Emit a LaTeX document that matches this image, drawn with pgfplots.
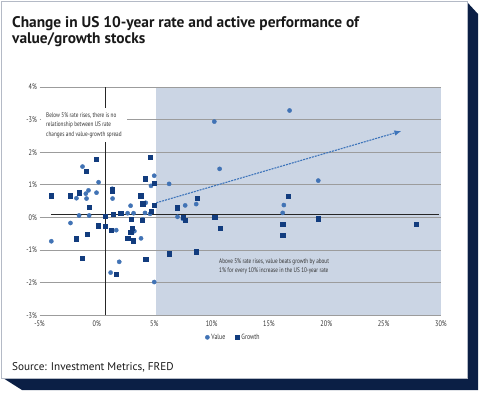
\documentclass[border=0pt]{standalone}
\usepackage{fontspec}
\setmainfont{PT Sans}
\newfontfamily\cond[FakeStretch=0.78]{PT Sans}
\usepackage{pgfplots}
\pgfplotsset{compat=1.18}
\usetikzlibrary{arrows.meta}
\definecolor{navy}{HTML}{0B1F45}
\definecolor{shadec}{HTML}{CBD5E4}
\definecolor{valc}{HTML}{4173B5}
\definecolor{groc}{HTML}{123C7E}
\definecolor{gridc}{HTML}{9C9C9C}
\definecolor{txt}{HTML}{333333}
\definecolor{trend}{HTML}{3D74BA}
\definecolor{cardb}{HTML}{B4BAC6}
\begin{document}
\begin{tikzpicture}[x=1pt,y=1pt]
\path[use as bounding box] (0,0) rectangle (480,392);
\fill[navy] (467,390) -- (478,378) -- (478,2) -- (22,2) -- (3,14) -- (467,14) -- cycle;
\filldraw[fill=white, draw=cardb, line width=0.8pt] (1,14) rectangle (467,391);
\node[anchor=base west, inner sep=0pt, font=\bfseries\fontsize{15.4}{16}\selectfont, text=black!90] at (12,392-28) {Change in US 10-year rate and active performance of};
\node[anchor=base west, inner sep=0pt, font=\bfseries\fontsize{15.4}{16}\selectfont, text=black!90] at (12,392-43.5) {value/growth stocks};
\node[anchor=base west, inner sep=0pt, font=\fontsize{11.2}{12}\selectfont, text=black!90] at (12,392-370.5) {Source: Investment Metrics, FRED};
\begin{axis}[
  at={(39.5pt,76.7pt)}, anchor=south west, scale only axis,
  width=401.5pt, height=228.3pt,
  xmin=-5, xmax=30, ymin=-3, ymax=4,
  axis line style={draw=none}, major tick length=0pt,
  xtick={-5,0,5,10,15,20,25,30},
  xticklabels={-5\%,0\%,5\%,10\%,15\%,20\%,25\%,30\%},
  ytick={-3,-2,-1,0,1,2,3,4},
  yticklabels={-3\%,-2\%,-1\%,0\%,1\%,2\%,-3\%,4\%},
  tick label style={font=\cond\fontsize{8}{9}\selectfont, text=txt},
  xticklabel style={yshift=-1.5pt},
  yticklabel style={xshift=1pt},
  clip=false,
  legend columns=2,
  legend style={at={(0.483,-0.0964)}, anchor=center, draw=none, fill=none,
    font=\cond\fontsize{7.5}{9}\selectfont, text=txt,
    /tikz/every even column/.append style={column sep=8pt}},
  legend image code/.code={\draw[#1] plot coordinates {(0pt,0pt)};},
]
\fill[shadec] (axis cs:5.19,-3) rectangle (axis cs:30,4);
\pgfplotsinvokeforeach{-3,-2,-1,0,1,2,3,4}{
  \draw[gridc, line width=1pt] (axis cs:-5,#1) -- (axis cs:30,#1);
}
\draw[black!85, line width=1.2pt] (axis cs:-4,0.08) -- (axis cs:29.8,0.08);
\draw[black!85, line width=1.2pt] (axis cs:0.72,-3) -- (axis cs:0.72,4);
\addplot[only marks, mark=*, mark size=2.1pt, color=valc, mark options={draw=valc, fill=valc}] coordinates {
(-3.97,-0.73) (-2.3,-0.17) (-1.78,0.59) (-1.55,0.06) (-1.25,1.56) (-0.96,0.73)
(-0.73,0.83) (-0.9,0.58) (-0.67,0.06) (-0.03,0.76) (0.15,1.08) (1.34,0.88)
(1.37,0.58) (1.2,-1.69) (1.95,-1.36) (1.69,-0.39) (2.68,0.13) (2.94,0.36)
(3.2,0.13) (3.27,-0.42) (3.85,-0.64) (4.0,-0.06) (4.2,0.14) (4.26,0.45)
(4.64,0.11) (4.72,0.97) (5.0,1.28) (5.0,-1.98) (6.3,1.03) (7.03,0.02)
(7.7,0.37) (7.5,-0.04) (8.66,0.41) (10.24,2.94) (10.7,1.49) (16.2,0.14)
(16.3,0.38) (16.8,3.28) (19.3,1.13)
};
\addlegendentry{Value}
\addplot[only marks, mark=square*, mark size=2.1pt, color=groc, mark options={draw=groc, fill=groc}] coordinates {
(-3.97,0.67) (-2.3,0.67) (-1.55,0.76) (-0.9,1.43) (-0.03,1.78) (-0.67,0.32)
(-1.78,-0.65) (-0.82,-0.52) (-1.28,-1.24) (0.15,-0.25) (0.7,-0.27) (0.7,0.05)
(1.34,0.86) (1.34,0.8) (1.43,0.09) (2.07,0.14) (1.28,-0.39) (1.69,-1.74)
(2.68,-0.64) (3.0,-0.05) (3.1,-0.33) (2.95,-0.45) (3.2,-0.71) (3.82,0.67)
(3.94,-0.08) (4.0,0.42) (4.2,1.19) (4.26,-1.29) (4.67,1.84) (4.72,0.19)
(5.0,1.06) (5.0,0.38) (6.33,-1.11) (7.03,0.30) (7.5,0.01) (7.73,-0.08)
(8.78,0.6) (8.66,-1.05) (10.27,0.02) (10.73,-0.32) (16.2,-0.2) (16.2,-0.54)
(16.7,0.66) (19.3,-0.04) (27.85,-0.2)
};
\addlegendentry{Growth}
\addplot[forget plot, trend, line width=1.1pt, dash pattern=on 2pt off 1pt, -{Latex[length=7pt,width=5.5pt]}] coordinates {(5.19,0.45) (26.55,2.65)};
\end{axis}
\fill[white] (41,392-142) rectangle (127,392-108);
\node[anchor=base west, inner sep=0pt, font=\cond\fontsize{6.7}{8}\selectfont, text=txt] at (46,392-117.3) {Below 5\% rate rises, there is no};
\node[anchor=base west, inner sep=0pt, font=\cond\fontsize{6.7}{8}\selectfont, text=txt] at (46,392-126.8) {relationship between US rate};
\node[anchor=base west, inner sep=0pt, font=\cond\fontsize{6.7}{8}\selectfont, text=txt] at (46,392-136.3) {changes and value-growth spread};
\node[anchor=base west, inner sep=0pt, font=\cond\fontsize{6.7}{8}\selectfont, text=txt] at (219,392-263.5) {Above 5\% rate rises, value beats growth by about};
\node[anchor=base west, inner sep=0pt, font=\cond\fontsize{6.7}{8}\selectfont, text=txt] at (219,392-272.8) {1\% for every 10\% increase in the US 10-year rate};
\end{tikzpicture}
\end{document}
